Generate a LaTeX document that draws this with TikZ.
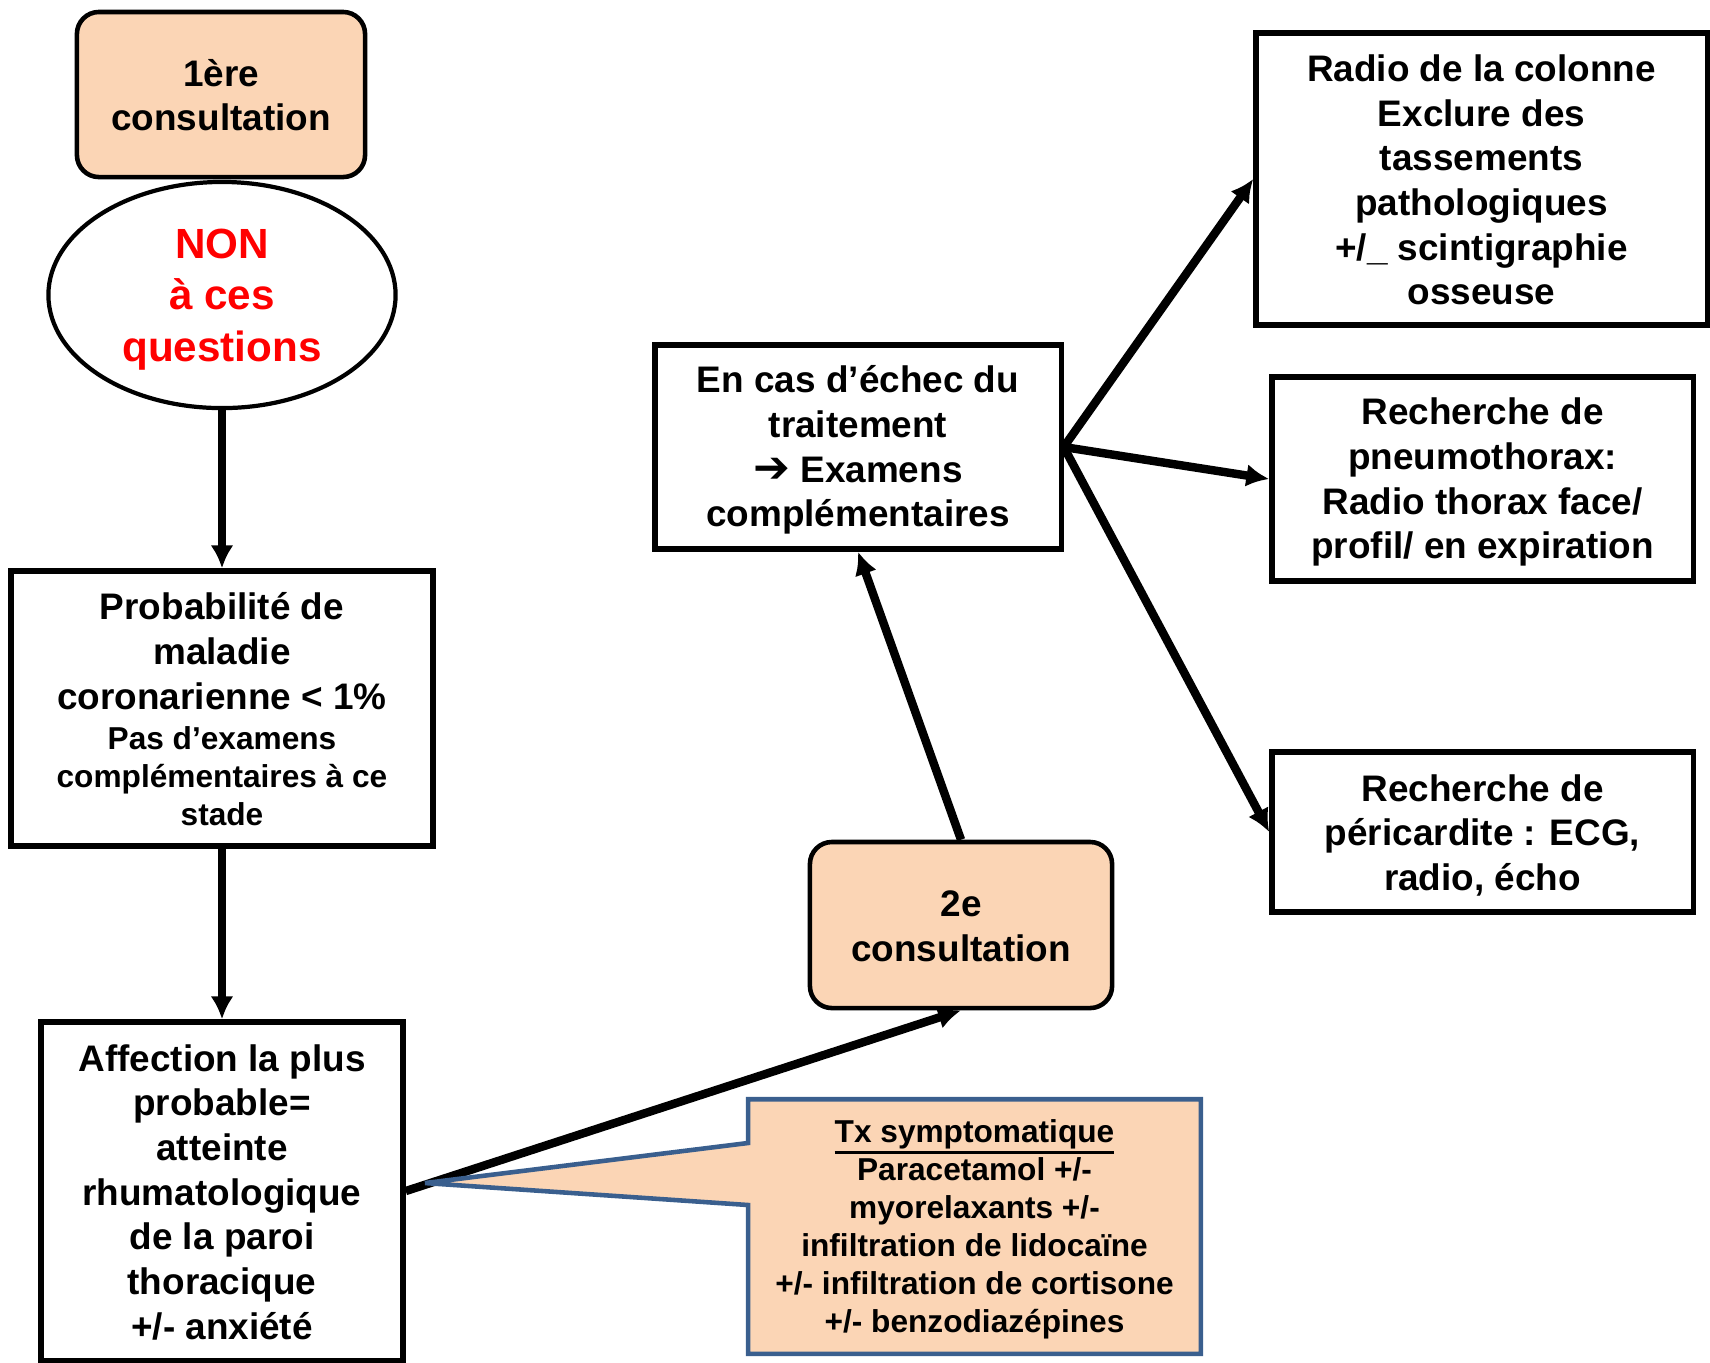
\documentclass[tikz,border=0pt]{standalone}
\usepackage{fontspec}
\setmainfont{Liberation Sans}
\newfontfamily\symfont{DejaVu Sans Bold}
\usetikzlibrary{shapes.geometric,arrows.meta,backgrounds}
\definecolor{peach}{HTML}{FBD5B5}
\definecolor{calloutblue}{HTML}{3A5F8E}
\newcommand{\smalltxt}{\fontsize{9}{10.8}\selectfont}
\newcommand{\ultxt}[1]{\vtop{\hbox{#1}\kern0.5pt\hrule height 0.9pt}}
\newcommand{\fl}{\rule{0pt}{0.905em}}

\tikzset{
  pptext/.style={align=center, inner sep=0pt,
    execute at end node={\rule[-0.14em]{0pt}{0pt}}},
  box/.style={draw, line width=1.5pt, pptext,
    font=\bfseries\fontsize{10.5}{12.7}\selectfont},
  consult/.style={box, line width=1.3pt, rounded corners=2.2mm, fill=peach},
  conn/.style={line width=2.4pt, -{Latex[length=6.5pt,width=6.5pt]}},
  callout/.style={draw=calloutblue, line width=1.3pt, fill=peach}
}

\begin{document}
\begin{tikzpicture}[x=0.01cm,y=-0.01cm]
\useasboundingbox (0,0) rectangle (1710,1362);

% left column
\node[consult, minimum width=2.88cm, minimum height=1.65cm] (c1) at (221,94.5) {\fl 1ère\\consultation};
\node[ellipse, draw, line width=1.2pt, pptext, minimum width=3.47cm, minimum height=2.26cm,
  text=red, font=\bfseries\fontsize{12}{14.7}\selectfont] (non) at (222,295) {\fl NON\\à ces\\questions};
\node[box, minimum width=4.22cm, minimum height=2.75cm] (prob) at (222,708.5)
  {\fl Probabilité de\\maladie\\coronarienne < 1\%\\[-1.2pt]\smalltxt Pas d’examens\\[-1.9pt]\smalltxt complémentaires à ce\\[-1.9pt]\smalltxt stade};
\node[box, minimum width=3.62cm, minimum height=3.38cm] (aff) at (222,1191)
  {\fl Affection la plus\\probable=\\atteinte\\rhumatologique\\de la paroi\\thoracique\\+/- anxiété};

% middle
\node[consult, minimum width=3.02cm, minimum height=1.66cm] (c2) at (961,925) {\fl 2e\\consultation};
\node[box, minimum width=4.06cm, minimum height=2.04cm] (echec) at (858,447)
  {\fl En cas d’échec du\\traitement\\{\symfont\fontsize{12.5}{12.5}\selectfont ➔} Examens\\complémentaires};

% right column
\node[box, minimum width=4.51cm, minimum height=2.92cm] (radio) at (1481.5,179)
  {\fl Radio de la colonne\\Exclure des\\tassements\\pathologiques\\+/\_ scintigraphie\\osseuse};
\node[box, minimum width=4.21cm, minimum height=2.04cm] (pneumo) at (1482.5,479)
  {\fl Recherche de\\pneumothorax:\\Radio thorax face/\\profil/ en expiration};
\node[box, minimum width=4.21cm, minimum height=1.60cm] (peri) at (1482.5,832)
  {\fl Recherche de\\péricardite : ECG,\\radio, écho};

% traitement
\node[pptext, minimum width=4.51cm, minimum height=2.53cm,
  font=\bfseries\smalltxt] (tx) at (974.5,1226.5)
  {\fl\ultxt{Tx symptomatique}\\Paracetamol +/-\\myorelaxants +/-\\infiltration de lidocaïne\\+/- infiltration de cortisone\\+/- benzodiazépines};
\coordinate (tip) at (425,1183);

\draw[conn] (non.south) -- (prob.north);
\draw[conn] (prob.south) -- (aff.north);
\draw[conn] (c2.north) -- (echec.south);
\draw[conn] (echec.east) -- (radio.west);
\draw[conn] (echec.east) -- (pneumo.west);
\draw[conn] (echec.east) -- (peri.west);

\begin{scope}[on background layer]
\draw[conn] (aff.east) -- (c2.south);
\draw[callout] (tx.north west) -- (tx.north east) -- (tx.south east) -- (tx.south west)
  -- ([yshift=2.15mm]tx.west) -- (tip) -- ([yshift=8.35mm]tx.west) -- cycle;
\end{scope}
\end{tikzpicture}
\end{document}
